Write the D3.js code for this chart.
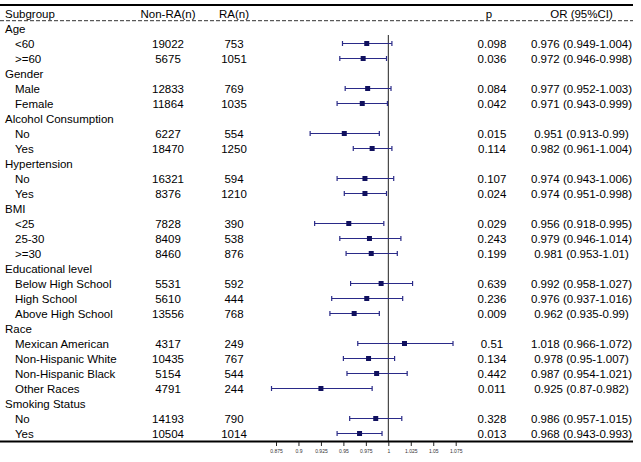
<!DOCTYPE html>
<html><head><meta charset="utf-8">
<script src="https://cdn.jsdelivr.net/npm/d3@7"></script>
<style>body{margin:0;background:#fff}svg{display:block}</style>
</head><body>
<script>
const labels = ["Age","<60",">=60","Gender","Male","Female","Alcohol Consumption","No","Yes","Hypertension","No","Yes","BMI","<25","25-30",">=30","Educational level","Below High School","High School","Above High School","Race","Mexican American","Non-Hispanic White","Non-Hispanic Black","Other Races","Smoking Status","No","Yes"];
const isGroup = [1,0,0,1,0,0,1,0,0,1,0,0,1,0,0,0,1,0,0,0,1,0,0,0,0,1,0,0];
const nonRA = [null,19022,5675,null,12833,11864,null,6227,18470,null,16321,8376,null,7828,8409,8460,null,5531,5610,13556,null,4317,10435,5154,4791,null,14193,10504];
const ra = [null,753,1051,null,769,1035,null,554,1250,null,594,1210,null,390,538,876,null,592,444,768,null,249,767,544,244,null,790,1014];
const pval = [null,0.098,0.036,null,0.084,0.042,null,0.015,0.114,null,0.107,0.024,null,0.029,0.243,0.199,null,0.639,0.236,0.009,null,0.51,0.134,0.442,0.011,null,0.328,0.013];
const orv = [null,0.976,0.972,null,0.977,0.971,null,0.951,0.982,null,0.974,0.974,null,0.956,0.979,0.981,null,0.992,0.976,0.962,null,1.018,0.978,0.987,0.925,null,0.986,0.968];
const lo = [null,0.949,0.946,null,0.952,0.943,null,0.913,0.961,null,0.943,0.951,null,0.918,0.946,0.953,null,0.958,0.937,0.935,null,0.966,0.95,0.954,0.87,null,0.957,0.943];
const hi = [null,1.004,0.998,null,1.003,0.999,null,0.99,1.004,null,1.006,0.998,null,0.995,1.014,1.01,null,1.027,1.016,0.99,null,1.072,1.007,1.021,0.982,null,1.015,0.993];
const tickVals = [0.875,0.9,0.925,0.95,0.975,1,1.025,1.05,1.075];
const headers = ["Subgroup","Non-RA(n)","RA(n)","p","OR (95%CI)"];

const W=641,H=462;
const svg=d3.select("body").append("svg").attr("width",W).attr("height",H);
const font="'Liberation Sans', Arial, sans-serif";
const fs=11.5;
const x=d3.scaleLinear().domain([0.875,1.075]).range([276,455.7]);
const y=d3.scaleLinear().domain([0,27]).range([28.5,433.5]);
const rows=d3.range(labels.length);
const lineCol="#2a2a88", dotCol="#10105e";
const cols={non:168,ra:234,p:492,or:581.5};

// top and header lines
svg.append("line").attr("x1",0).attr("x2",633).attr("y1",5).attr("y2",5).attr("stroke","#000").attr("stroke-width",2);
svg.append("line").attr("x1",0).attr("x2",633).attr("y1",20.7).attr("y2",20.7).attr("stroke","#333").attr("stroke-width",1).attr("stroke-dasharray","4,2");

const hx=[5,cols.non,cols.ra,cols.p-3,cols.or];
const ha=["start","middle","middle","middle","middle"];
svg.selectAll("text.hdr").data(headers).join("text").attr("class","hdr")
  .attr("x",(d,i)=>hx[i]).attr("y",17.5).attr("text-anchor",(d,i)=>ha[i])
  .attr("font-family",font).attr("font-size",fs).attr("fill","#000").text(d=>d);

const g=svg.append("g").attr("font-family",font).attr("font-size",fs).attr("fill","#000");
g.selectAll("text.lab").data(rows).join("text").attr("class","lab")
  .attr("x",i=>isGroup[i]?5:15).attr("y",i=>y(i)+4.2).text(i=>labels[i]);
const dataRows=rows.filter(i=>!isGroup[i]);
g.selectAll("text.non").data(dataRows).join("text").attr("text-anchor","middle")
  .attr("x",cols.non).attr("y",i=>y(i)+4.2).text(i=>nonRA[i]);
g.selectAll("text.ra").data(dataRows).join("text").attr("class","ra").attr("text-anchor","middle")
  .attr("x",cols.ra).attr("y",i=>y(i)+4.2).text(i=>ra[i]);
g.selectAll("text.p").data(dataRows).join("text").attr("class","p").attr("text-anchor","middle")
  .attr("x",cols.p).attr("y",i=>y(i)+4.2).text(i=>String(pval[i]));
g.selectAll("text.or").data(dataRows).join("text").attr("class","or").attr("text-anchor","middle")
  .attr("x",cols.or).attr("y",i=>y(i)+4.2).text(i=>`${orv[i].toFixed(3)} (${lo[i]}-${hi[i]})`);

// reference line
svg.append("line").attr("x1",x(1)).attr("x2",x(1)).attr("y1",35).attr("y2",441).attr("stroke","#222").attr("stroke-width",1);

// CI
const ci=svg.append("g");
ci.selectAll("line.ci").data(dataRows).join("line").attr("class","ci")
  .attr("x1",i=>x(lo[i])).attr("x2",i=>x(hi[i])).attr("y1",i=>y(i)).attr("y2",i=>y(i))
  .attr("stroke",lineCol).attr("stroke-width",1.2);
ci.selectAll("line.capl").data(dataRows).join("line").attr("class","capl")
  .attr("x1",i=>x(lo[i])).attr("x2",i=>x(lo[i])).attr("y1",i=>y(i)-2.5).attr("y2",i=>y(i)+2.5)
  .attr("stroke",lineCol).attr("stroke-width",1.2);
ci.selectAll("line.capr").data(dataRows).join("line").attr("class","capr")
  .attr("x1",i=>x(hi[i])).attr("x2",i=>x(hi[i])).attr("y1",i=>y(i)-2.5).attr("y2",i=>y(i)+2.5)
  .attr("stroke",lineCol).attr("stroke-width",1.2);
ci.selectAll("rect").data(dataRows).join("rect")
  .attr("x",i=>x(orv[i])-2.5).attr("y",i=>y(i)-2.5).attr("width",5).attr("height",5).attr("fill",dotCol);

// bottom axis
svg.append("line").attr("x1",0).attr("x2",633).attr("y1",441.5).attr("y2",441.5).attr("stroke","#000").attr("stroke-width",2);
const ax=svg.append("g").attr("transform","translate(0,442)")
  .call(d3.axisBottom(x).tickValues(tickVals).tickSize(4).tickPadding(3).tickFormat(d=>String(+d.toFixed(3))));
ax.select(".domain").remove();
ax.selectAll(".tick line").attr("stroke","#222");
ax.selectAll(".tick text").attr("font-family",font).attr("font-size",5).attr("fill","#333");
</script>
</body></html>
